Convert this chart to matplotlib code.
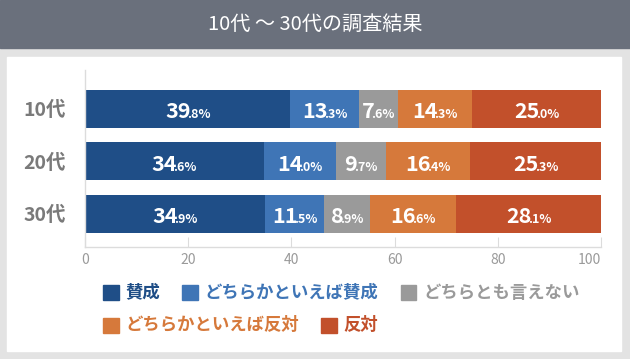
import matplotlib
matplotlib.use('Agg')
import matplotlib.pyplot as plt
from matplotlib.patches import Rectangle

plt.rcParams['font.family'] = ['Noto Sans CJK JP', 'DejaVu Sans']

# data
groups = ['10代', '20代', '30代']
answers = ['賛成', 'どちらかといえば賛成', 'どちらとも言えない', 'どちらかといえば反対', '反対']
sansei = [39.8, 34.6, 34.9]
yaya_sansei = [13.3, 14.0, 11.5]
dochira_demo = [7.6, 9.7, 8.9]
yaya_hantai = [14.3, 16.4, 16.6]
hantai = [25.0, 25.3, 28.1]
series = [sansei, yaya_sansei, dochira_demo, yaya_hantai, hantai]
colors = ['#1f4e87', '#3f75b6', '#9a9a9a', '#d6793b', '#c2502b']

W, H = 630, 359
fig = plt.figure(figsize=(W / 100, H / 100), dpi=100, facecolor='#e3e3e3')

# title bar and white panel
fig.add_artist(Rectangle((0, 1 - 48 / H), 1, 48 / H, transform=fig.transFigure,
                         color='#6a707c', zorder=0))
fig.add_artist(Rectangle((7 / W, 1 - 351 / H), 614 / W, 294 / H, transform=fig.transFigure,
                         color='white', zorder=0))
fig.text(0.5, 1 - 24 / H, '10代 ～ 30代の調査結果', ha='center', va='center',
         color='white', fontsize=14.5)

ax = fig.add_axes([85 / W, 1 - 247 / H, 516 / W, 177 / H])
ax.patch.set_visible(False)

ypos = list(range(len(groups)))
left = [0.0] * len(groups)
labels = []
for vals, c in zip(series, colors):
    ax.barh(ypos, vals, left=left, height=0.72, color=c, edgecolor='none', zorder=2)
    for yi, (l, v) in enumerate(zip(left, vals)):
        ip, dp = f'{v:.1f}'.split('.')
        cx = l + v / 2
        big = ax.annotate(ip, (cx, yi), xytext=(0, -6.7), textcoords='offset points',
                          ha='left', va='baseline', fontsize=15.5, fontweight='bold',
                          color='white', zorder=3)
        small = ax.annotate('.' + dp + '%', (cx, yi), xytext=(0, -6.7),
                            textcoords='offset points', ha='left', va='baseline',
                            fontsize=9, fontweight='bold', color='white', zorder=3)
        labels.append((big, small))
    left = [a + b for a, b in zip(left, vals)]

ax.set_xlim(0, 100)
ax.set_ylim(2.63, -0.74)
ax.set_xticks(range(0, 101, 20))
ax.set_yticks(ypos, groups)
ax.tick_params(axis='x', direction='in', length=7, color='#dcdcdc',
               labelcolor='#9a9a9a', labelsize=10, pad=4)
ax.tick_params(axis='y', length=0, labelsize=14, labelcolor='#7a7a7a', pad=14)
for t in ax.get_yticklabels():
    t.set_fontweight('bold')
ax.get_xticklabels()[-1].set_ha('right')
for s in ['top', 'right']:
    ax.spines[s].set_visible(False)
for s in ['left', 'bottom']:
    ax.spines[s].set_color('#dcdcdc')
    ax.spines[s].set_linewidth(1)

renderer = fig.canvas.get_renderer()

# center the two-size value labels, pulling the small part in tight
kern = 2.5
for big, small in labels:
    w1 = big.get_window_extent(renderer).width * 0.72
    w2 = small.get_window_extent(renderer).width * 0.72
    start = -(w1 + w2 - kern) / 2
    big.xyann = (start, -6.7)
    small.xyann = (start + w1 - kern, -6.7)

# legend, drawn by hand so rows flow like the original
sq = 15.5
for row, yc in zip([[0, 1, 2], [3, 4]], [292.5, 325.5]):
    x = 103
    for i in row:
        fig.add_artist(Rectangle((x / W, 1 - (yc + sq / 2) / H), sq / W, sq / H,
                                 transform=fig.transFigure, color=colors[i]))
        t = fig.text((x + sq + 7) / W, 1 - yc / H, answers[i], ha='left', va='center',
                     fontsize=12.5, fontweight='bold', color=colors[i])
        x += sq + 7 + t.get_window_extent(renderer).width + 22

fig.savefig('out.png', dpi=100, facecolor=fig.get_facecolor())
